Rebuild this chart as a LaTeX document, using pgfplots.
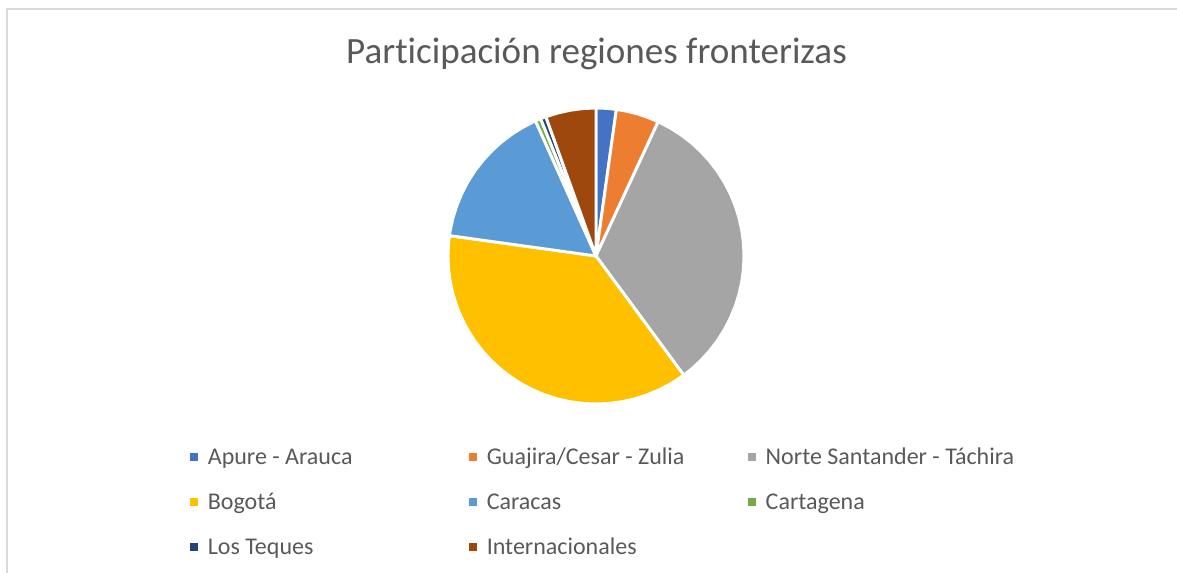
\documentclass[border=0pt]{standalone}
\usepackage{fontspec}
\setmainfont{Carlito}[Ligatures=NoCommon]
\usepackage{pgfplots}
\pgfplotsset{compat=1.18}
\usepgfplotslibrary{polar}
\definecolor{cApure}{HTML}{4472C4}
\definecolor{cGuajira}{HTML}{ED7D31}
\definecolor{cNorte}{HTML}{A5A5A5}
\definecolor{cBogota}{HTML}{FFC000}
\definecolor{cCaracas}{HTML}{5B9BD5}
\definecolor{cCartagena}{HTML}{70AD47}
\definecolor{cTeques}{HTML}{264478}
\definecolor{cInter}{HTML}{9E480E}
\definecolor{ctext}{HTML}{595959}
\definecolor{cborder}{HTML}{D9D9D9}
% Shares (%): Apure 2.2, Guajira 4.7, Norte 33.0, Bogota 37.3, Caracas 16.1,
% Cartagena 0.6, Los Teques 0.6, Internacionales 5.5 ; angle = 90 - 3.6*cumulative
\begin{document}
\begin{tikzpicture}[x=0.375pt,y=0.375pt]
\path[use as bounding box] (0,0) rectangle (1177,573);
\draw[cborder, line width=0.75pt] (7,0) -- (7,564) -- (1177,564);
\node[anchor=base, text=ctext, font=\fontsize{13.9}{16}\selectfont] at (596.5,509) {Participación regiones fronterizas};
\begin{polaraxis}[
  at={(223.5pt,118.875pt)}, anchor=center,
  scale only axis, width=111pt, height=111pt,
  ymin=0, ymax=1, hide axis, clip=false,
  legend columns=3, legend cell align=left,
  legend image code/.code={\fill[#1,draw=none] (0pt,-1pt) rectangle (2.9pt,1.9pt);},
  legend style={draw=none, fill=none, inner sep=0pt, outer sep=0pt,
    at={(-0.8716,-0.1429)}, anchor=north west,
    font=\fontsize{9}{10}\selectfont, text=ctext, row sep=7.8pt,
    nodes={inner sep=0pt, text height=7pt, text depth=2pt, text width=97.9pt, align=flush left},
    /tikz/every odd column/.append style={column sep=3.8pt}},
]
\addplot[fill=cApure, draw=white, line width=1.1pt, line join=round] coordinates {(0,0) (90,1) (86,1) (82.08,1) (0,0)};
\addlegendentry{Apure - Arauca}
\addplot[fill=cGuajira, draw=white, line width=1.1pt, line join=round] coordinates {(0,0) (82.08,1) (78,1) (74,1) (70,1) (65.16,1) (0,0)};
\addlegendentry{Guajira/Cesar - Zulia}
\addplot[fill=cNorte, draw=white, line width=1.1pt, line join=round] coordinates {(0,0) (65.16,1) (60,1) (55,1) (50,1) (45,1) (40,1) (35,1) (30,1) (25,1) (20,1) (15,1) (10,1) (5,1) (0,1) (-5,1) (-10,1) (-15,1) (-20,1) (-25,1) (-30,1) (-35,1) (-40,1) (-45,1) (-50,1) (-53.64,1) (0,0)};
\addlegendentry{Norte Santander - Táchira}
\addplot[fill=cBogota, draw=white, line width=1.1pt, line join=round] coordinates {(0,0) (-53.64,1) (-55,1) (-60,1) (-65,1) (-70,1) (-75,1) (-80,1) (-85,1) (-90,1) (-95,1) (-100,1) (-105,1) (-110,1) (-115,1) (-120,1) (-125,1) (-130,1) (-135,1) (-140,1) (-145,1) (-150,1) (-155,1) (-160,1) (-165,1) (-170,1) (-175,1) (-180,1) (-185,1) (-187.92,1) (0,0)};
\addlegendentry{Bogotá}
\addplot[fill=cCaracas, draw=white, line width=1.1pt, line join=round] coordinates {(0,0) (-187.92,1) (-190,1) (-195,1) (-200,1) (-205,1) (-210,1) (-215,1) (-220,1) (-225,1) (-230,1) (-235,1) (-240,1) (-245,1) (-245.88,1) (0,0)};
\addlegendentry{Caracas}
\addplot[fill=cCartagena, draw=white, line width=1.1pt, line join=round] coordinates {(0,0) (-245.88,1) (-247,1) (-248.04,1) (0,0)};
\addlegendentry{Cartagena}
\addplot[fill=cTeques, draw=white, line width=1.1pt, line join=round] coordinates {(0,0) (-248.04,1) (-249,1) (-250.2,1) (0,0)};
\addlegendentry{Los Teques}
\addplot[fill=cInter, draw=white, line width=1.1pt, line join=round] coordinates {(0,0) (-250.2,1) (-255,1) (-260,1) (-265,1) (-270,1) (0,0)};
\addlegendentry{Internacionales}
\end{polaraxis}
\end{tikzpicture}
\end{document}
